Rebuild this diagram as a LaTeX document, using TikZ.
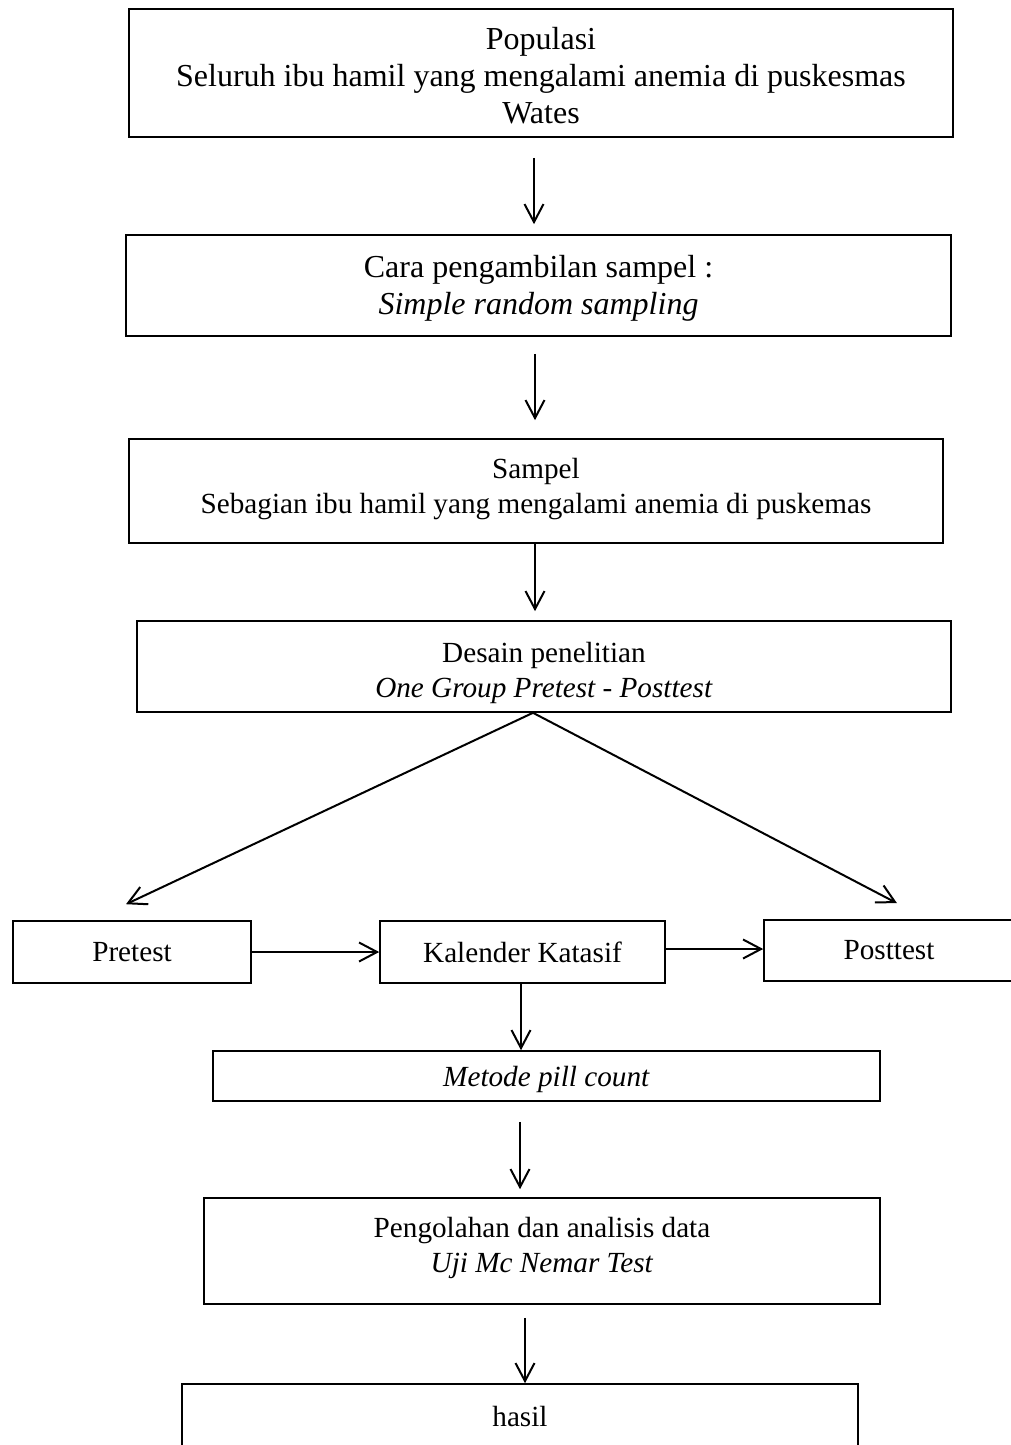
\documentclass[tikz,border=0pt]{standalone}
\usepackage{fontspec}
\setmainfont{Liberation Serif}
\usetikzlibrary{arrows.meta,calc}
\tikzset{
  box/.style={draw, line width=0.8pt, inner sep=0pt, align=center},
  bigtxt/.style={font=\fontsize{16}{18.5}\selectfont},
  smalltxt/.style={font=\fontsize{14.6}{17.5}\selectfont},
  arr/.style={line width=1pt, -{Straight Barb[length=9pt,width=9.5pt,line width=1pt]}},
  harr/.style={arr, line width=1.2pt}
}
\begin{document}
\begin{tikzpicture}[x=0.5pt,y=-0.5pt]
\useasboundingbox (0,0) rectangle (1011,1445);
\node[box,bigtxt,minimum width=412pt,minimum height=64pt] (b1) at (541,73)
  {\rule{0pt}{14pt}Populasi\\Seluruh ibu hamil yang mengalami anemia di puskesmas\\Wates};
\node[box,bigtxt,minimum width=412.5pt,minimum height=50.5pt] (b2) at (538.5,285.5)
  {\rule{0pt}{14.4pt}Cara pengambilan sampel :\\\textit{Simple random sampling}};
\node[box,smalltxt,minimum width=407pt,minimum height=52pt] (b3) at (536,491)
  {Sampel\\Sebagian ibu hamil yang mengalami anemia di puskemas\rule[-4.7pt]{0pt}{4.7pt}};
\node[box,smalltxt,minimum width=407pt,minimum height=45.5pt] (b4) at (544,666.5)
  {\rule{0pt}{17pt}Desain penelitian\\\textit{One Group Pretest - Posttest}};
\node[box,smalltxt,minimum width=119pt,minimum height=31pt] (pre) at (132,952) {Pretest};
\node[box,smalltxt,minimum width=142.5pt,minimum height=31pt] (kal) at (522.5,952) {Kalender Katasif};
\node[box,smalltxt,minimum width=125pt,minimum height=30.5pt] (post) at (889,950.5) {Posttest};
\node[box,smalltxt,minimum width=333.5pt,minimum height=25pt] (met) at (546.5,1076) {\rule{0pt}{14pt}\textit{Metode pill count}};
\node[box,smalltxt,minimum width=338pt,minimum height=53pt] (peng) at (542,1251)
  {Pengolahan dan analisis data\\\textit{Uji Mc Nemar Test}\rule[-5.7pt]{0pt}{5.7pt}};
\node[box,smalltxt,minimum width=338pt,minimum height=32pt] (has) at (520,1416) {hasil};

\draw[arr] ($(b1.south)+(-7,20)$) -- ($(b2.north)+(-4.5,-10)$);
\draw[arr] ($(b2.south)+(-3.5,17)$) -- ($(b3.north)+(-1,-18)$);
\draw[arr] ($(b3.south)+(-1,0)$) -- ($(b4.north)+(-9,-9)$);
\draw[arr] ($(b4.south)+(-11,0)$) -- ($(pre.north)+(-6,-16)$);
\draw[arr] ($(b4.south)+(-11,0)$) -- ($(post.north)+(8,-16)$);
\draw[harr] (pre.east) -- (kal.west);
\draw[harr] ($(kal.east)+(0,-3)$) -- ($(post.west)+(0,-1.5)$);
\draw[arr] ($(kal.south)+(-1.5,0)$) -- ($(met.north)+(-25.5,0)$);
\draw[arr] ($(met.south)+(-26.5,20)$) -- ($(peng.north)+(-22,-8)$);
\draw[arr] ($(peng.south)+(-17,13)$) -- ($(has.north)+(5,0)$);
\end{tikzpicture}
\end{document}
